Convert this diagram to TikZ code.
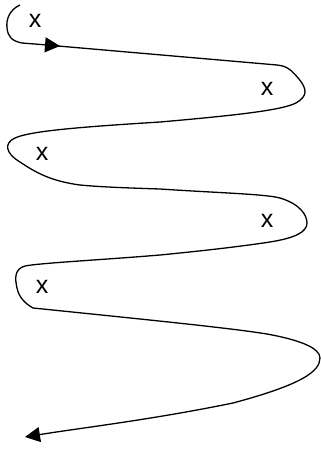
\documentclass[tikz,border=0pt]{standalone}
\usepackage{fontspec}
\setmainfont{Liberation Sans}
\usetikzlibrary{arrows.meta}
\begin{document}
\begin{tikzpicture}[x=1pt,y=-1pt,
  wire/.style={line width=1.3pt, line join=round},
  tipbig/.style={-{Triangle[length=15pt,width=15pt]}},
  lbl/.style={font=\fontsize{25}{25}\selectfont, inner sep=0pt}]
\useasboundingbox (0,0) rectangle (321,451);
% start hook with first arrowhead
\coordinate (s) at (20,5);
\coordinate (a) at (60,46);
\draw[wire, tipbig] (s) .. controls (9,10) and (6,20) .. (7,28)
  .. controls (8,37) and (12,41) .. (22,43) -- (a);
% the meander
\coordinate (e) at (25,437);
\draw[wire, tipbig] (58,46) -- (277,65)
  .. controls (288,66) and (292,71) .. (299,79)
  .. controls (307,89) and (308,96) .. (296,103)
  .. controls (282,110) and (240,115) .. (160,122)
  .. controls (80,127) and (30,131) .. (15,138)
  .. controls (4,143) and (5,153) .. (20,162)
  .. controls (35,172) and (50,181) .. (80,185)
  .. controls (100,187) and (130,188) .. (160,189)
  .. controls (220,193) and (265,194) .. (280,198)
  .. controls (300,204) and (307,215) .. (307,223)
  .. controls (307,232) and (295,238) .. (270,242)
  .. controls (230,248) and (190,252) .. (160,255)
  .. controls (100,260) and (40,263) .. (25,266)
  .. controls (14,269) and (15,279) .. (17,288)
  .. controls (19,298) and (26,304) .. (33,308)
  -- (43,309)
  .. controls (150,320) and (230,328) .. (267,334)
  .. controls (300,340) and (320,348) .. (320,358)
  .. controls (320,372) and (300,385) .. (233,403)
  .. controls (150,420) and (80,428) .. (e);
% labels
\node[lbl] (x1) at (35,21) {x};
\node[lbl] (x2) at (267,89) {x};
\node[lbl] (x3) at (42,154) {x};
\node[lbl] (x4) at (267,221) {x};
\node[lbl] (x5) at (42,287) {x};
\end{tikzpicture}
\end{document}
